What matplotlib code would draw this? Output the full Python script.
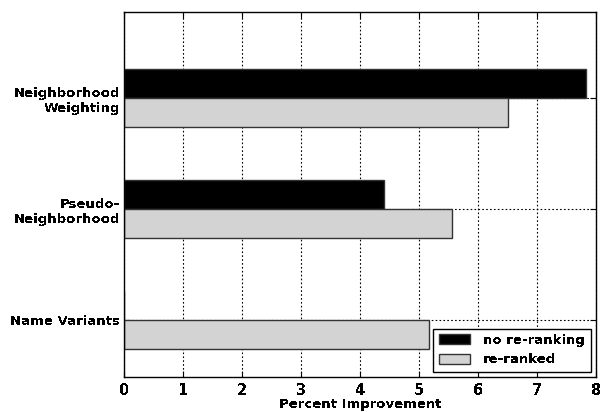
import numpy as np
import matplotlib
matplotlib.use("Agg")
import matplotlib.pyplot as plt

categories = ["Name Variants", "Pseudo-\nNeighborhood", "Neighborhood\nWeighting"]
no_rerank = [0.0, 4.41, 7.84]
reranked = [5.17, 5.56, 6.51]
xticks = [0, 1, 2, 3, 4, 5, 6, 7, 8]

plt.rcParams["font.family"] = "DejaVu Sans"
plt.rcParams["font.weight"] = "bold"
plt.rcParams["font.size"] = 9.5
plt.rcParams["text.antialiased"] = False

fig = plt.figure(figsize=(6.0, 4.12), dpi=100)
ax = fig.add_axes([0.207, 0.085, 0.786, 0.886])

pos = np.arange(len(categories))
h = 0.26
ax.barh(pos + h / 2, no_rerank, height=h, color="black", edgecolor="#333333",
        linewidth=1, label="no re-ranking")
ax.barh(pos - h / 2, reranked, height=h, color="#d3d3d3", edgecolor="#333333",
        linewidth=1, label="re-ranked")

ax.set_xlim(0, 8)
ax.set_ylim(-0.51, 2.775)
ax.set_xticks(xticks)
ax.set_xticklabels([str(t) for t in xticks], fontsize=10.5, fontweight="bold")
ax.set_yticks(pos)
ax.set_yticklabels(categories, fontsize=9.5, fontweight="bold")
ax.set_xlabel("Percent Improvement", fontsize=9.5, fontweight="bold", labelpad=0)
ax.tick_params(direction="in", length=4, top=True, right=True, pad=4)
ax.tick_params(axis="y", pad=3)
ax.grid(True, color="black", linestyle=(0, (1.5, 2)), linewidth=0.8)
ax.set_axisbelow(True)
for s in ax.spines.values():
    s.set_linewidth(1)

leg = ax.legend(loc="lower right", fancybox=False, framealpha=1,
                edgecolor="black", borderaxespad=0.4, handlelength=2.4,
                handleheight=0.8, handletextpad=1.0,
                prop={"weight": "bold", "size": 9.5})
leg.get_frame().set_linewidth(1)

fig.savefig("out.png", dpi=100)
